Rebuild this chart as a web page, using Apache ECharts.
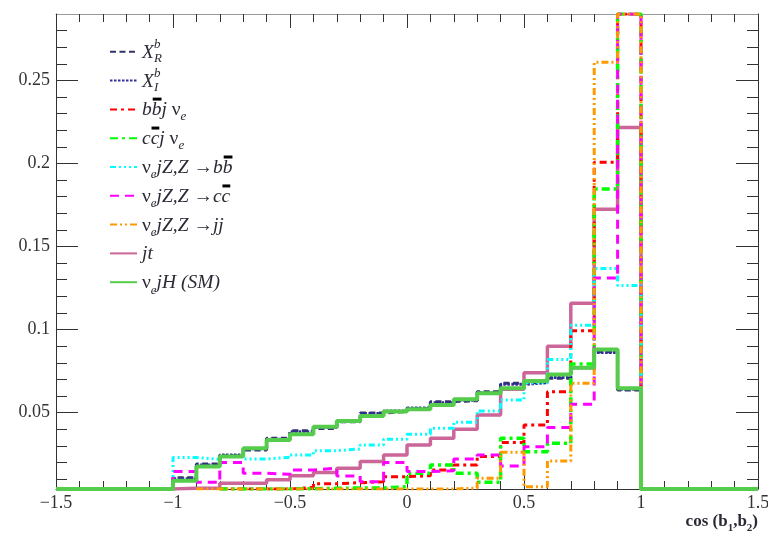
<!DOCTYPE html>
<html>
<head>
<meta charset="utf-8">
<script src="https://cdn.jsdelivr.net/npm/echarts@6/dist/echarts.min.js"></script>
<style>
html,body{margin:0;padding:0;background:#fff;}
#main{width:768px;height:536px;}
</style>
</head>
<body>
<div id="main"></div>
<script>
// histogram bins: low edges, width 0.1
var binLo = [-1.0,-0.9,-0.8,-0.7,-0.6,-0.5,-0.4,-0.3,-0.2,-0.1,0.0,0.1,0.2,0.3,0.4,0.5,0.6,0.7,0.8,0.9];
var binWidth = 0.1;

// bin contents (0 = empty bin, values above 0.29 are off scale)
var xR  = [0.0108,0.019,0.024,0.0275,0.0345,0.039,0.0405,0.0445,0.0498,0.0506,0.0525,0.0566,0.0572,0.0625,0.0677,0.0685,0.0707,0.0772,0.0867,0.0636];
var xI  = [0.0102,0.0185,0.0245,0.0282,0.034,0.0385,0.041,0.0448,0.0495,0.051,0.0528,0.056,0.0575,0.062,0.067,0.068,0.0712,0.0768,0.0862,0.064];
var bbj = [0,0,0.002,0.002,0.003,0.005,0.0072,0.0078,0.0084,0.0114,0.012,0.0155,0.0185,0.0235,0.032,0.0426,0.0626,0.0993,0.2007,0.34];
var ccj = [0,0,0.003,0.0035,0.004,0.0042,0.0044,0.0046,0.0046,0.0054,0.0135,0.0185,0.0135,0.008,0.0345,0.0265,0.0315,0.0793,0.1846,0.35];
var zbb = [0.0229,0.0219,0.0235,0.0221,0.0231,0.0245,0.0271,0.0281,0.0305,0.034,0.037,0.0406,0.0442,0.051,0.0576,0.068,0.082,0.1026,0.1367,0.1265];
var zcc = [0.0145,0.008,0.0199,0.0135,0.0129,0.0155,0.0165,0.0119,0.0084,0.0199,0.0145,0.015,0.022,0.0245,0.0179,0.0295,0.041,0.055,0.131,0.36];
var zjj = [0,0.001,0.003,0.004,0.004,0.004,0.004,0.004,0.004,0.004,0.004,0.004,0.0046,0.0105,0.0262,0.0054,0.0209,0.0677,0.261,0.38];
var jt  = [0.0045,0.0045,0.0075,0.0075,0.0095,0.012,0.014,0.0165,0.0205,0.0245,0.0305,0.0345,0.040,0.0486,0.064,0.074,0.090,0.1158,0.1724,0.2216];
var sm  = [0.009,0.0175,0.0235,0.0285,0.0335,0.037,0.0415,0.045,0.048,0.0506,0.052,0.0546,0.058,0.0616,0.0646,0.069,0.073,0.077,0.088,0.0646];

// axes
var xMin = -1.5, xMax = 1.5, xStep = 0.5;
var yMin = 0.004, yMax = 0.29;
var yTicks = [0.05,0.1,0.15,0.2,0.25];
var yMinorTicks = [0.01,0.02,0.03,0.04,0.06,0.07,0.08,0.09,0.11,0.12,0.13,0.14,0.16,0.17,0.18,0.19,0.21,0.22,0.23,0.24,0.26,0.27,0.28];

var AXIS = '#333';
var TXT = '#2a2a35';
var SERIF = '"Liberation Serif", "DejaVu Serif", serif';

// step points, contents clipped to the frame like ROOT does
function histPoints(vals) {
  var pts = [[xMin, yMin]];
  for (var i = 0; i < vals.length; i++) {
    if (vals[i] <= 0) { pts.push([binLo[i], null]); continue; }
    pts.push([binLo[i], Math.min(Math.max(vals[i], yMin), yMax)]);
  }
  pts.push([binLo[binLo.length - 1] + binWidth, yMin]);
  pts.push([xMax, yMin]);
  return pts;
}

function mkSeries(name, vals, color, width, dash) {
  return {
    name: name, type: 'line', step: 'end', symbol: 'none',
    data: histPoints(vals), connectNulls: false, clip: true,
    lineStyle: {color: color, width: width, type: dash || 'solid'},
    itemStyle: {color: color},
    emphasis: {disabled: true}, animation: false
  };
}

var series = [
  mkSeries('jt',  jt,  '#cc6699', 3.5),
  mkSeries('XR',  xR,  '#33336b', 3, [6, 3.5]),
  mkSeries('XI',  xI,  '#2e2e96', 3, [2.5, 1.5]),
  mkSeries('bbj', bbj, '#ff0000', 3, [7, 4, 3, 4]),
  mkSeries('ccj', ccj, '#00ff00', 3.5, [8, 4, 3, 4]),
  mkSeries('Zbb', zbb, '#00ffff', 3, [6, 3, 2, 3, 2, 3, 2, 3]),
  mkSeries('Zcc', zcc, '#ff00ff', 3, [9, 6]),
  mkSeries('Zjj', zjj, '#ff9900', 3, [7, 3, 2, 3, 2, 3]),
  mkSeries('SM',  sm,  '#55cc4c', 4)
];
var legendOrder = ['XR','XI','bbj','ccj','Zbb','Zcc','Zjj','jt','SM'];

// legend labels (math-like text)
var legendX = 109, legendTop = 47, rowH = 28.95, textX = 142, firstRowY = 51.7;
var U = {it: false};
function P(t, o) { var p = {t: t, it: true, size: 19.5, dy: 0}; for (var k in o) p[k] = o[k]; return p; }
var SUB = {size: 13, dy: 7}, SUP = {size: 13, dy: -7, stack: true};
var labels = [
  [P('X', {dy: 1}), P('b', SUP), P('R', SUB)],
  [P('X', {dy: 1}), P('b', SUP), P('I', SUB)],
  [P('b'), P('b', {bar: true}), P('j'), P(' \u03bd', U), P('e', SUB)],
  [P('c'), P('c', {bar: true}), P('j'), P(' \u03bd', U), P('e', SUB)],
  [P('\u03bd', U), P('e', SUB), P('jZ,Z '), P('\u2192', U), P('b'), P('b', {bar: true})],
  [P('\u03bd', U), P('e', SUB), P('jZ,Z '), P('\u2192', U), P('c'), P('c', {bar: true})],
  [P('\u03bd', U), P('e', SUB), P('jZ,Z '), P('\u2192', U), P('jj')],
  [P('jt')],
  [P('\u03bd', U), P('e', SUB), P('jH (SM)')]
];

var ctx = document.createElement('canvas').getContext('2d');
function fontOf(p) { return (p.it ? 'italic ' : '') + (p.bold ? 'bold ' : '') + p.size + 'px ' + SERIF; }
function measure(p) { ctx.font = fontOf(p); return ctx.measureText(p.t).width; }
function textRun(x, y, pieces, out) {
  var cx = x;
  pieces.forEach(function (p) {
    var w = measure(p);
    out.push({type: 'text', x: cx, y: y + p.dy, silent: true,
      style: {text: p.t, font: fontOf(p), fill: TXT, textAlign: 'left', align: 'left', textVerticalAlign: 'middle', verticalAlign: 'middle'}});
    if (p.bar) out.push({type: 'rect', silent: true, shape: {x: cx + w * 0.1, y: y - 12, width: w * 0.9, height: 3}, style: {fill: '#000'}});
    if (!p.stack) cx += w;
  });
  return cx - x;
}
var graphics = [];
labels.forEach(function (pcs, i) { textRun(textX, firstRowY + i * rowH, pcs, graphics); });

// x axis title
var titlePcs = [P('cos (b', {it: false, bold: true, size: 17}), P('1', {it: false, bold: true, size: 11, dy: 6}),
  P(',b', {it: false, bold: true, size: 17}), P('2', {it: false, bold: true, size: 11, dy: 6}), P(')', {it: false, bold: true, size: 17})];
var tw = 0; titlePcs.forEach(function (p) { tw += measure(p); });
textRun(758 - tw, 522, titlePcs, graphics);

function fmtX(v) { return v < 0 ? '\u2212' + Math.abs(v) : String(v); }

function axLine(show, color) { return {show: show, onZero: false, lineStyle: {color: color, width: 1}}; }

var myChart = echarts.init(document.getElementById('main'));
var option = {
  backgroundColor: '#fff',
  animation: false,
  grid: {left: 56, right: 10, top: 14, bottom: 47, containLabel: false, outerBoundsMode: 'none'},
  legend: {
    data: legendOrder, orient: 'vertical', left: legendX, top: legendTop, padding: 0,
    itemWidth: 27, itemHeight: 12, itemGap: 19.2, selectedMode: false,
    itemStyle: {opacity: 0},
    formatter: function () { return ''; },
    textStyle: {fontSize: 8, lineHeight: 8}
  },
  xAxis: [
    {type: 'value', position: 'bottom', min: xMin, max: xMax, interval: xStep,
     axisLine: axLine(true, AXIS),
     axisTick: {show: true, inside: true, length: 14, lineStyle: {color: AXIS}},
     minorTick: {show: true, splitNumber: 5, length: 8, lineStyle: {color: AXIS}},
     axisLabel: {show: true, margin: 5, color: '#333', fontFamily: SERIF, fontSize: 18, formatter: fmtX},
     splitLine: {show: false}},
    {type: 'value', position: 'top', min: xMin, max: xMax, interval: xStep,
     axisLine: axLine(true, '#999'),
     axisTick: {show: true, inside: true, length: 14, lineStyle: {color: AXIS}},
     minorTick: {show: true, splitNumber: 5, length: 8, lineStyle: {color: AXIS}},
     axisLabel: {show: false}, splitLine: {show: false}}
  ],
  yAxis: [
    {type: 'value', position: 'left', min: yMin, max: yMax,
     axisLine: axLine(true, AXIS),
     axisTick: {show: true, inside: true, length: 22, customValues: yTicks, lineStyle: {color: AXIS}},
     axisLabel: {show: true, margin: 6, customValues: yTicks, color: '#333', fontFamily: SERIF, fontSize: 18},
     splitLine: {show: false}},
    {type: 'value', position: 'left', min: yMin, max: yMax,
     axisLine: axLine(false, AXIS),
     axisTick: {show: true, inside: true, length: 11, customValues: yMinorTicks, lineStyle: {color: AXIS}},
     axisLabel: {show: false}, splitLine: {show: false}},
    {type: 'value', position: 'right', min: yMin, max: yMax,
     axisLine: axLine(true, AXIS),
     axisTick: {show: true, inside: true, length: 22, customValues: yTicks, lineStyle: {color: AXIS}},
     axisLabel: {show: false}, splitLine: {show: false}},
    {type: 'value', position: 'right', min: yMin, max: yMax,
     axisLine: axLine(false, AXIS),
     axisTick: {show: true, inside: true, length: 11, customValues: yMinorTicks, lineStyle: {color: AXIS}},
     axisLabel: {show: false}, splitLine: {show: false}}
  ],
  series: series,
  graphic: graphics
};
myChart.setOption(option);
window.addEventListener('resize', function () { myChart.resize(); });
</script>
</body>
</html>
